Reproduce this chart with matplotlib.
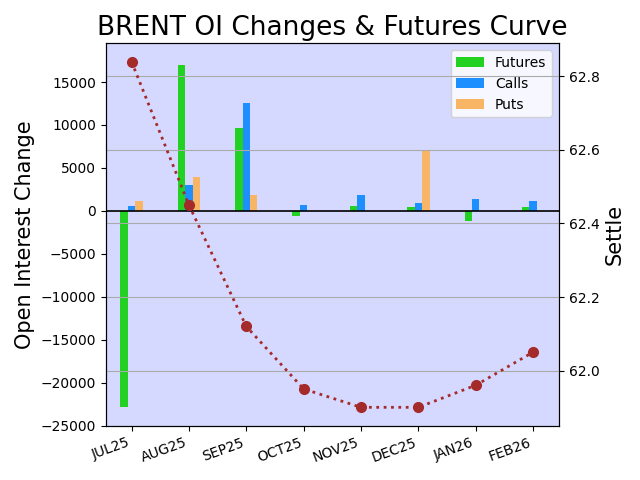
import numpy as np
import matplotlib.pyplot as plt

months = ["JUL25", "AUG25", "SEP25", "OCT25", "NOV25", "DEC25", "JAN26", "FEB26"]
futures = [-22800, 17000, 9700, -600, 600, 400, -1200, 400]
calls = [600, 3000, 12600, 700, 1900, 900, 1400, 1100]
puts = [1200, 4000, 1900, 0, 0, 7000, 0, 0]
settle = [62.84, 62.45, 62.12, 61.95, 61.90, 61.90, 61.96, 62.05]

x = np.arange(len(months))
w = 0.13

fig, ax = plt.subplots(figsize=(6.4, 4.8))
ax.set_facecolor("#d5d9ff")
ax.bar(x - w, futures, w, color="#22d122", label="Futures")
ax.bar(x, calls, w, color="#1e8fff", label="Calls")
ax.bar(x + w, puts, w, color="#f7b565", label="Puts")
ax.axhline(0, color="black", lw=1.2)
ax.set_ylim(-25000, 19500)
ax.set_ylabel("Open Interest Change", fontsize=15)
ax.set_xticks(x)
ax.set_xticklabels(months, rotation=20, ha="right")
ax.legend(loc="upper right")
ax.set_title("BRENT OI Changes & Futures Curve", fontsize=19)

ax2 = ax.twinx()
ax2.plot(x, settle, ":", color="#a52a2a", lw=2, marker="o", markersize=7)
ax2.set_ylim(61.85, 62.89)
ax2.set_yticks([62.0, 62.2, 62.4, 62.6, 62.8])
ax2.grid(True, axis="y", color="#aaaaaa")
ax2.set_ylabel("Settle", fontsize=15)
ax.set_xlim(-0.45, 7.45)

fig.tight_layout()
fig.savefig("out.png", dpi=100)
